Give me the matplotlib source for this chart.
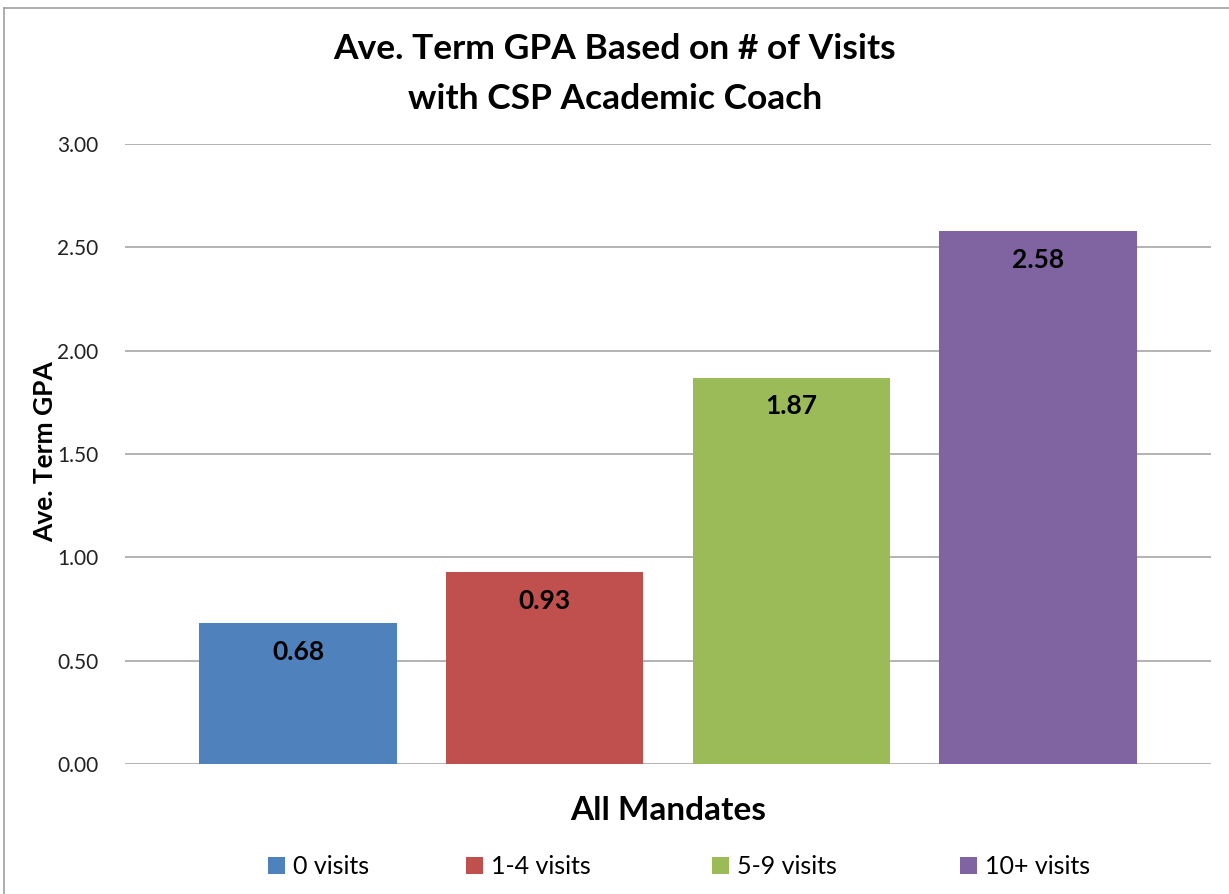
#!/usr/bin/env python3
"""Bar chart: average term GPA by number of academic coach visits."""

import matplotlib
matplotlib.use('Agg')
import matplotlib.pyplot as plt
from matplotlib.lines import Line2D
from matplotlib.patches import Rectangle

# Data
categories = ["0 visits", "1-4 visits", "5-9 visits", "10+ visits"]
gpa_values = [0.68, 0.93, 1.87, 2.58]
y_ticks = [0.0, 0.5, 1.0, 1.5, 2.0, 2.5, 3.0]

colors = ['#4F81BD', '#C0504D', '#9BBB59', '#8064A2']

plt.rcParams['font.family'] = ['Lato', 'DejaVu Sans']

W, H = 1229, 894
fig = plt.figure(figsize=(W / 100, H / 100), dpi=100)
fig.patch.set_facecolor('white')

# plot area in pixel coords
left, right, top, bottom = 125, 1211, 144, 764
ax = fig.add_axes([left / W, 1 - bottom / H, (right - left) / W, (bottom - top) / H])

x = list(range(len(categories)))
bars = ax.bar(x, gpa_values, width=0.80, color=colors, zorder=3)

ax.set_ylim(0, 3.0)
ax.set_xlim(-0.701, 3.701)
ax.set_yticks(y_ticks)
ax.set_yticklabels([f'{v:.2f}' for v in y_ticks], fontsize=15, color='#222222')
ax.set_xticks([])
ax.tick_params(axis='y', length=0, pad=19)
ax.yaxis.grid(True, color='#A6A6A6', linewidth=1.2, zorder=0)
for side in ['top', 'right', 'left', 'bottom']:
    ax.spines[side].set_visible(False)

# value labels inside bars
for bar, val in zip(bars, gpa_values):
    ax.text(bar.get_x() + bar.get_width() / 2, val - 0.14, f'{val:.2f}',
            ha='center', va='center', fontsize=19, fontweight='bold',
            color='black', zorder=4)

fig.text(615 / W, 1 - 74 / H,
         "Ave. Term GPA Based on # of Visits\nwith CSP Academic Coach",
         ha='center', va='center', fontsize=25.5, fontweight='bold',
         linespacing=1.68)
fig.text(45 / W, 1 - 452 / H, "Ave. Term GPA", rotation=90,
         ha='center', va='center', fontsize=19, fontweight='bold')
fig.text(668 / W, 1 - 811 / H, "All Mandates",
         ha='center', va='center', fontsize=24, fontweight='bold')

# legend entries placed like the Excel legend
legend_x = [268, 466, 712, 960]
legend_y = 865
box = 17
for lx, label, c in zip(legend_x, categories, colors):
    fig.add_artist(Rectangle((lx / W, (H - legend_y - box / 2) / H), box / W, box / H,
                             facecolor=c, edgecolor='none', transform=fig.transFigure))
    fig.text((lx + box + 8) / W, 1 - (legend_y + 1) / H, label,
             ha='left', va='center', fontsize=18)

# outer chart border (left and top visible)
fig.add_artist(Line2D([4 / W, 4 / W], [0, 1 - 8 / H], color='#A0A0A0', lw=1.2))
fig.add_artist(Line2D([4 / W, 1], [1 - 8 / H, 1 - 8 / H], color='#A0A0A0', lw=1.2))

fig.savefig('out.png', dpi=100, facecolor='white')
plt.close(fig)
